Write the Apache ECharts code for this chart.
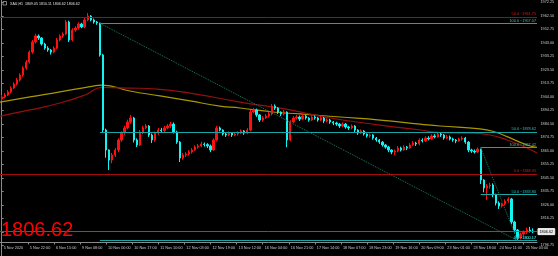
<!DOCTYPE html>
<html><head><meta charset="utf-8">
<script src="https://cdn.jsdelivr.net/npm/echarts@6/dist/echarts.min.js"></script>
<style>html,body{margin:0;padding:0;background:#000;}#c{width:558px;height:256px;}</style>
</head><body><div id="c"></div>
<script>
// ---------- data ----------
const symbolInfo = 'XAU,H1  1809.05 1810.11 1806.62 1806.62';
const lastPrice = 1806.62;
const timeTicks = [0,17,34,51,68,85,102,119,136,153,170,187,204,221,238,255,272,289,306,323,340];
const timeLabels = ['5 Nov 2020','5 Nov 22:00','6 Nov 15:00','9 Nov 08:00','10 Nov 00:00','10 Nov 17:00','11 Nov 10:00','12 Nov 03:00','12 Nov 19:00','13 Nov 12:00','16 Nov 04:00','16 Nov 21:00','17 Nov 14:00','18 Nov 07:00','18 Nov 23:00','19 Nov 16:00','20 Nov 09:00','23 Nov 01:00','23 Nov 18:00','24 Nov 11:00','25 Nov 03:00'];
const priceTicks = [1796.75,1806.50,1816.25,1826.00,1835.75,1845.50,1855.25,1865.00,1874.75,1884.50,1894.25,1904.00,1913.75,1923.50,1933.25,1943.00,1952.75,1962.50,1972.25];

// candles (2-hour steps), open / close / low / high
const opens = [1902.4,1903.9,1905.3,1907.5,1910.3,1913.2,1916.1,1919.7,1924.8,1929.1,1936.3,1943.6,1947.9,1946.5,1942.1,1939.2,1937.8,1936.3,1939.2,1945.0,1947.9,1949.3,1958.0,1945.0,1952.2,1953.7,1956.6,1954.4,1959.5,1962.3,1959.5,1958.0,1957.3,1934.2,1880.0,1865.6,1858.3,1862.0,1865.6,1872.8,1877.8,1881.5,1885.8,1888.7,1872.8,1869.2,1878.6,1881.5,1882.9,1876.4,1872.8,1877.8,1880.0,1879.5,1881.5,1882.9,1884.3,1878.6,1871.3,1859.8,1862.0,1862.7,1864.1,1865.6,1867.7,1868.5,1869.9,1869.5,1868.5,1865.6,1872.8,1881.5,1880.0,1877.1,1876.4,1877.8,1876.4,1877.1,1877.8,1879.3,1877.8,1880.0,1893.0,1894.5,1890.9,1887.2,1888.7,1890.1,1891.6,1897.3,1895.9,1893.0,1891.6,1893.0,1872.8,1885.8,1888.7,1889.4,1887.9,1890.1,1888.7,1887.2,1889.4,1888.7,1887.2,1888.7,1886.5,1887.2,1885.8,1885.1,1884.3,1882.9,1884.3,1882.2,1881.5,1882.9,1880.0,1877.8,1879.3,1877.1,1875.7,1876.4,1874.2,1872.8,1871.3,1869.2,1867.7,1865.6,1864.1,1864.8,1867.0,1865.6,1867.7,1867.0,1869.2,1870.6,1869.9,1872.8,1872.1,1874.2,1873.5,1875.7,1875.0,1877.1,1876.4,1874.2,1875.0,1873.5,1872.8,1872.1,1873.5,1874.2,1871.3,1865.6,1864.8,1864.1,1866.3,1843.9,1838.1,1839.6,1840.3,1833.1,1827.3,1825.1,1826.6,1828.7,1830.2,1813.6,1807.8,1802.0,1804.9,1806.3,1807.8,1807.1];
const closes = [1903.9,1905.3,1907.5,1910.3,1913.2,1916.1,1919.7,1924.8,1929.1,1936.3,1943.6,1947.9,1946.5,1942.1,1939.2,1937.8,1936.3,1939.2,1945.0,1947.9,1949.3,1958.0,1945.0,1952.2,1953.7,1956.6,1954.4,1959.5,1962.3,1959.5,1958.0,1957.3,1934.2,1880.0,1865.6,1858.3,1862.0,1865.6,1872.8,1877.8,1881.5,1885.8,1888.7,1872.8,1869.2,1878.6,1881.5,1882.9,1876.4,1872.8,1877.8,1880.0,1879.5,1881.5,1882.9,1884.3,1878.6,1871.3,1859.8,1862.0,1862.7,1864.1,1865.6,1867.7,1868.5,1869.9,1869.5,1868.5,1865.6,1872.8,1881.5,1880.0,1877.1,1876.4,1877.8,1876.4,1877.1,1877.8,1879.3,1877.8,1880.0,1893.0,1894.5,1890.9,1887.2,1888.7,1890.1,1891.6,1897.3,1895.9,1893.0,1891.6,1893.0,1872.8,1885.8,1888.7,1889.4,1887.9,1890.1,1888.7,1887.2,1889.4,1888.7,1887.2,1888.7,1886.5,1887.2,1885.8,1885.1,1884.3,1882.9,1884.3,1882.2,1881.5,1882.9,1880.0,1877.8,1879.3,1877.1,1875.7,1876.4,1874.2,1872.8,1871.3,1869.2,1867.7,1865.6,1864.1,1864.8,1867.0,1865.6,1867.7,1867.0,1869.2,1870.6,1869.9,1872.8,1872.1,1874.2,1873.5,1875.7,1875.0,1877.1,1876.4,1874.2,1875.0,1873.5,1872.8,1872.1,1873.5,1874.2,1871.3,1865.6,1864.8,1864.1,1866.3,1843.9,1838.1,1839.6,1840.3,1833.1,1827.3,1825.1,1826.6,1828.7,1830.2,1813.6,1807.8,1802.0,1804.9,1806.3,1807.8,1807.1,1806.6];
const lows = [1901.0,1902.8,1904.5,1906.5,1909.5,1912.0,1915.0,1918.5,1923.5,1928.0,1935.0,1942.5,1945.0,1941.0,1938.0,1936.5,1934.5,1935.5,1938.5,1944.0,1946.5,1948.5,1943.5,1944.0,1951.0,1952.5,1953.5,1953.5,1958.5,1958.5,1956.8,1956.0,1933.0,1878.0,1860.0,1851.1,1856.0,1860.5,1864.0,1871.5,1876.5,1880.5,1884.5,1871.0,1867.7,1868.5,1877.0,1880.5,1875.0,1870.6,1871.5,1876.5,1878.0,1878.5,1880.5,1881.5,1877.5,1870.0,1856.9,1858.5,1860.5,1861.5,1863.0,1865.0,1866.5,1867.5,1868.0,1867.0,1864.0,1865.0,1872.0,1879.0,1876.0,1875.0,1875.5,1875.0,1875.5,1876.0,1877.0,1876.5,1877.0,1879.0,1892.0,1889.5,1885.8,1886.0,1888.0,1889.0,1890.5,1894.5,1891.6,1890.0,1890.5,1867.5,1872.0,1885.0,1887.5,1886.5,1887.0,1887.5,1886.0,1886.5,1887.5,1886.0,1886.5,1885.0,1885.5,1884.5,1883.5,1883.0,1881.5,1882.0,1881.0,1880.0,1880.5,1878.5,1876.5,1877.0,1876.0,1874.5,1874.5,1873.0,1871.5,1870.0,1868.0,1866.5,1864.0,1862.5,1862.0,1864.0,1864.5,1865.0,1865.5,1866.5,1868.5,1868.5,1869.0,1871.0,1871.5,1872.5,1873.0,1874.0,1874.5,1875.0,1873.0,1873.5,1872.5,1871.5,1870.5,1871.5,1872.5,1870.0,1864.0,1863.5,1863.0,1863.5,1841.0,1835.0,1829.5,1837.5,1831.5,1825.5,1823.0,1824.0,1825.5,1827.5,1812.0,1806.0,1800.1,1801.0,1803.5,1805.0,1806.0,1805.5];
const highs = [1905.3,1906.8,1908.9,1911.5,1914.5,1917.5,1921.0,1926.0,1930.5,1937.5,1945.0,1949.5,1949.0,1947.0,1943.0,1940.5,1938.5,1940.5,1946.5,1949.0,1950.5,1959.5,1959.0,1953.5,1955.0,1957.8,1957.5,1960.8,1964.5,1963.0,1960.5,1958.8,1957.5,1935.0,1881.0,1866.0,1863.5,1867.0,1874.0,1879.0,1883.0,1887.5,1890.9,1889.5,1874.0,1880.0,1883.0,1884.3,1883.5,1877.5,1879.0,1881.5,1881.5,1883.0,1884.3,1885.8,1885.5,1879.5,1872.0,1863.5,1864.0,1865.5,1867.0,1869.0,1870.0,1871.5,1871.0,1870.5,1869.5,1874.0,1883.0,1882.5,1880.5,1878.0,1879.0,1878.5,1878.5,1879.0,1880.5,1880.0,1881.5,1894.5,1896.0,1895.5,1891.5,1890.0,1891.5,1893.0,1898.8,1898.5,1896.5,1893.5,1894.5,1893.5,1887.0,1890.0,1890.9,1890.5,1891.5,1891.0,1889.5,1890.5,1890.5,1889.5,1890.0,1889.5,1888.5,1888.0,1886.5,1886.0,1885.0,1885.5,1885.0,1883.0,1884.0,1883.5,1880.5,1880.5,1880.0,1877.5,1877.5,1877.0,1875.0,1873.5,1872.0,1870.0,1868.5,1866.0,1866.0,1868.5,1868.0,1869.0,1868.5,1870.5,1872.0,1871.5,1874.0,1874.0,1875.5,1875.5,1877.0,1877.0,1878.5,1878.0,1877.0,1876.5,1876.0,1874.5,1873.5,1874.5,1875.5,1875.0,1872.0,1866.5,1866.0,1867.4,1866.5,1844.5,1841.0,1842.0,1841.5,1834.0,1828.5,1827.5,1830.0,1831.5,1831.0,1814.5,1808.5,1806.0,1807.5,1809.5,1810.1,1809.0];

// moving averages [hour, price]
const maYellow = [[-1.1,1900.2],[18.4,1903.9],[38.0,1907.5],[57.5,1911.4],[65.4,1912.5],[83.6,1908.2],[103.1,1904.6],[122.7,1901.0],[142.2,1897.3],[155.3,1895.9],[176.7,1893.0],[194.3,1891.6],[220.4,1889.4],[246.5,1887.2],[272.5,1884.3],[285.5,1882.9],[311.6,1880.9],[321.4,1878.6],[329.2,1875.2],[342.2,1869.2],[348.7,1867.5]];
const maRed = [[-1.1,1890.1],[18.4,1894.5],[38.0,1899.5],[54.3,1905.3],[65.4,1910.7],[83.6,1910.3],[101.2,1909.6],[122.7,1906.7],[155.3,1900.2],[176.7,1896.6],[187.8,1894.5],[213.9,1888.7],[246.5,1883.6],[272.5,1880.0],[285.5,1878.1],[305.1,1877.8],[318.1,1876.4],[329.2,1872.8],[342.2,1867.0],[348.7,1863.4]];

// fibonacci objects
const fibALevels = ['100.0','50.0','0.0'];
const fibAPrices = [1957.07,1878.62,1800.17];
const fibAStart = 64;
const fibBLevels = ['100.0','50.0','0.0'];
const fibBPrices = [1867.42,1833.80,1800.17];
const fibBStart = 312;
const fibLowHour = 336;
const redLevels = ['50.0','0.0'];
const redPrices = [1961.75,1848.35];

// ---------- chart ----------
const X_MIN = -1.1, X_MAX = 348.7;
const TEAL = '#1aa5a5', TEAL_T = '#2cc4c4', DRED = '#a30c0c', RED_T = '#d02020';
const FONT = 'Liberation Sans, Arial, sans-serif';
const candleData = opens.map((o, i) => [i * 2, o, closes[i], lows[i], highs[i]]);

const ml = [];
function lbl(text, color) {
  return {show: true, position: 'insideEndTop', formatter: text, color: color, fontSize: 3.8,
          fontFamily: FONT, distance: [1, 0.5], padding: 0};
}
redPrices.forEach((p, i) => ml.push({yAxis: p, lineStyle: {color: DRED, width: 1, type: 'solid'},
  label: lbl(redLevels[i] + ' ~' + p.toFixed(2), RED_T)}));
fibAPrices.forEach((p, i) => ml.push([
  {coord: [fibAStart, p], lineStyle: {color: TEAL, width: 1, type: 'solid'}, label: lbl(fibALevels[i] + ' ~' + p.toFixed(2), TEAL_T)},
  {coord: [X_MAX, p]}]));
fibBPrices.forEach((p, i) => ml.push([
  {coord: [fibBStart, p], lineStyle: {color: TEAL, width: 1, type: 'solid'}, label: lbl(fibBLevels[i] + ' ~' + p.toFixed(2), TEAL_T)},
  {coord: [X_MAX, p]}]));
ml.push([{coord: [fibAStart, fibAPrices[0]], lineStyle: {color: '#168062', width: 1, type: 'dotted'}, label: {show: false}},
         {coord: [fibLowHour, fibAPrices[2]]}]);
ml.push([{coord: [fibBStart, fibBPrices[0]], lineStyle: {color: '#168062', width: 1, type: 'dotted'}, label: {show: false}},
         {coord: [fibLowHour, fibBPrices[2]]}]);
ml.push({yAxis: lastPrice, lineStyle: {color: '#5a5a5a', width: 1, type: 'solid'},
  label: {show: true, position: 'end', distance: 1, formatter: lastPrice.toFixed(2), color: '#000', fontSize: 3.8,
          fontFamily: FONT, backgroundColor: '#e8e8e8', borderColor: '#fff', borderWidth: 0.5, padding: [1, 1.5]}});

const chart = echarts.init(document.getElementById('c'), null, {renderer: 'canvas'});
chart.setOption({
  backgroundColor: '#000',
  animation: false,
  title: [
    {text: '1806.62', left: 1, top: 220, padding: 0,
     textStyle: {color: '#ff0000', fontSize: 20, fontWeight: 'normal', fontFamily: FONT}},
    {text: symbolInfo, left: 10, top: 1.5, padding: 0,
     textStyle: {color: '#e0e0e0', fontSize: 3.6, fontWeight: 'normal', fontFamily: FONT}}
  ],
  graphic: [{type: 'rect', shape: {x: 3, y: 1.5, width: 3.5, height: 3.5},
             style: {fill: '#000', stroke: '#ccc', lineWidth: 0.6}}],
  grid: [
    {left: 0, right: 21, top: 0, bottom: 14},
    {left: 0, right: 21, top: 0, bottom: 0}
  ],
  xAxis: [
    {type: 'value', gridIndex: 0, min: X_MIN, max: X_MAX,
     axisLine: {show: true, onZero: false, lineStyle: {color: '#8a8a8a', width: 1}},
     axisTick: {show: true, customValues: timeTicks, length: 2.5, lineStyle: {color: '#8a8a8a'}},
     axisLabel: {show: true, customValues: timeTicks, color: '#c8c8c8', fontSize: 3.8, fontFamily: FONT,
                 align: 'left', margin: 3.5, padding: [0, 0, 0, 2],
                 formatter: v => timeLabels[timeTicks.indexOf(Math.round(v))] || ''},
     splitLine: {show: false}},
    {type: 'value', gridIndex: 1, min: X_MIN, max: X_MAX, show: false}
  ],
  yAxis: [
    {type: 'value', gridIndex: 0, position: 'right', min: 1799.13, max: 1973.91, scale: true,
     axisLine: {show: false}, axisTick: {show: false}, axisLabel: {show: false}, splitLine: {show: false}},
    {type: 'value', gridIndex: 1, position: 'right', min: 1789.02, max: 1973.91, scale: true,
     axisLine: {show: true, lineStyle: {color: '#8a8a8a', width: 1}},
     axisTick: {show: true, customValues: priceTicks, length: 2, lineStyle: {color: '#8a8a8a'}},
     axisLabel: {show: true, customValues: priceTicks, color: '#c8c8c8', fontSize: 3.8, fontFamily: FONT,
                 margin: 3.5, formatter: v => v.toFixed(2)},
     splitLine: {show: false}}
  ],
  series: [
    {type: 'line', xAxisIndex: 0, yAxisIndex: 0, data: maYellow, smooth: true, symbol: 'none',
     lineStyle: {color: '#a89800', width: 1.2}, z: 2},
    {type: 'line', xAxisIndex: 0, yAxisIndex: 0, data: maRed, smooth: true, symbol: 'none',
     lineStyle: {color: '#960f0f', width: 1.2}, z: 2,
     markLine: {silent: true, symbol: ['none', 'none'], animation: false, data: ml}},
    {type: 'candlestick', xAxisIndex: 0, yAxisIndex: 0, data: candleData,
     encode: {x: 0, y: [1, 2, 3, 4]}, barWidth: 1.8, z: 3,
     itemStyle: {color: '#ff1010', color0: '#10f4f4', borderColor: '#ff1010', borderColor0: '#10f4f4', borderWidth: 1}}
  ]
});
</script>
</body></html>
